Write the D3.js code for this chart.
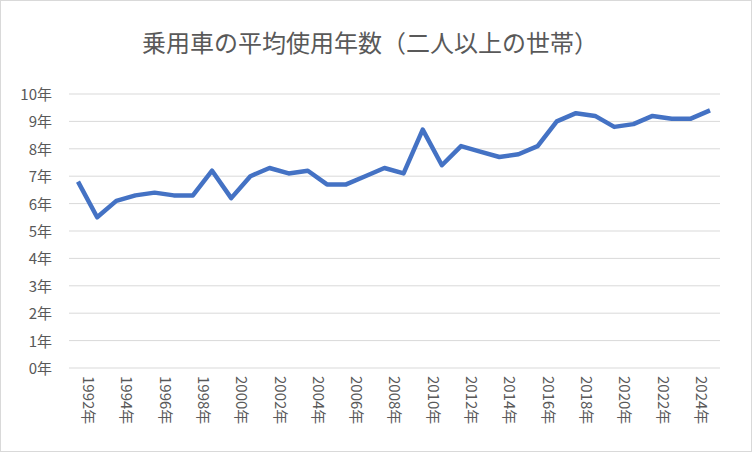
<!DOCTYPE html>
<html><head><meta charset="utf-8">
<script src="https://cdn.jsdelivr.net/npm/d3@7"></script>
<style>body{margin:0;background:#fff;font-family:"Noto Sans CJK JP",sans-serif;}</style>
</head><body><div id="chart"></div>
<script>
const years = d3.range(1992, 2026);
const avgYears = [6.8,5.5,6.1,6.3,6.4,6.3,6.3,7.2,6.2,7.0,7.3,7.1,7.2,6.7,6.7,7.0,7.3,7.1,8.7,7.4,8.1,7.9,7.7,7.8,8.1,9.0,9.3,9.2,8.8,8.9,9.2,9.1,9.1,9.4];
const yTicks = d3.range(0, 11);
const title = "乗用車の平均使用年数（二人以上の世帯）";

const W = 752, H = 452;
const svg = d3.select("#chart").append("svg").attr("width", W).attr("height", H);
svg.append("rect").attr("x", 0.5).attr("y", 0.5).attr("width", W - 1).attr("height", H - 1)
    .attr("fill", "#fff").attr("stroke", "#d9d9d9");

const plotL = 69, plotR = 720, plotT = 94, plotB = 368;
const x = d3.scalePoint().domain(years).range([78, 710]);
const y = d3.scaleLinear().domain([0, 10]).range([plotB, plotT]);

svg.append("text").attr("x", 370).attr("y", 52).attr("text-anchor", "middle")
    .attr("font-size", 24).attr("fill", "#595959").text(title);

svg.append("g").selectAll("line").data(yTicks).enter().append("line")
    .attr("x1", plotL).attr("x2", plotR).attr("y1", d => y(d)).attr("y2", d => y(d))
    .attr("stroke", "#d9d9d9").attr("stroke-width", 1);

svg.append("g").selectAll("text").data(yTicks).enter().append("text")
    .attr("x", 52).attr("y", d => y(d) + 6).attr("text-anchor", "end")
    .attr("font-size", 15).attr("fill", "#595959").text(d => d + "年");

svg.append("g").selectAll("text").data(years.filter(d => d % 2 === 0)).enter().append("text")
    .attr("transform", d => `translate(${x(d) + 5},376) rotate(90)`)
    .attr("font-size", 15).attr("fill", "#595959").text(d => d + "年");

svg.append("path").datum(avgYears)
    .attr("fill", "none").attr("stroke", "#4472c4").attr("stroke-width", 4.5)
    .attr("stroke-linejoin", "round")
    .attr("d", d3.line().x((d, i) => x(years[i])).y(d => y(d)));
</script></body></html>
